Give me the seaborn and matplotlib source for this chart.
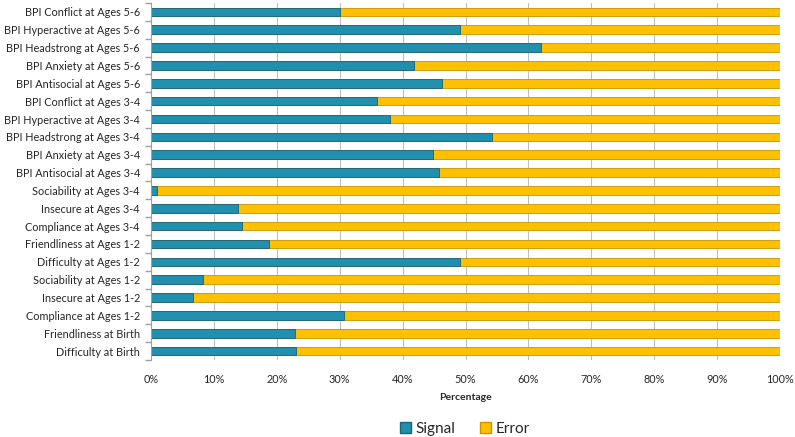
import matplotlib
matplotlib.use("Agg")
import matplotlib.pyplot as plt
import seaborn as sns
import pandas as pd
from matplotlib.patches import Patch
from matplotlib.ticker import PercentFormatter

categories = [
    "BPI Conflict at Ages 5-6", "BPI Hyperactive at Ages 5-6", "BPI Headstrong at Ages 5-6",
    "BPI Anxiety at Ages 5-6", "BPI Antisocial at Ages 5-6", "BPI Conflict at Ages 3-4",
    "BPI Hyperactive at Ages 3-4", "BPI Headstrong at Ages 3-4", "BPI Anxiety at Ages 3-4",
    "BPI Antisocial at Ages 3-4", "Sociability at Ages 3-4", "Insecure at Ages 3-4",
    "Compliance at Ages 3-4", "Friendliness at Ages 1-2", "Difficulty at Ages 1-2",
    "Sociability at Ages 1-2", "Insecure at Ages 1-2", "Compliance at Ages 1-2",
    "Friendliness at Birth", "Difficulty at Birth",
]
signal = [30.0, 49.1, 62.0, 41.8, 46.3, 35.9, 38.0, 54.2, 44.8, 45.8,
          0.95, 13.8, 14.5, 18.7, 49.1, 8.3, 6.6, 30.7, 22.9, 23.1]
error = [100 - s for s in signal]

df = pd.DataFrame({"cat": categories, "signal": signal, "error": error})
df["total"] = df["signal"] + df["error"]

sns.set_theme(style="white")
plt.rcParams["font.family"] = ["Lato", "DejaVu Sans"]

fig = plt.figure(figsize=(7.95, 4.37), dpi=100)
ax = fig.add_axes([151/795, 1-360/437, (780-151)/795, 357/437])

sig_c = "#2190AF"
err_c = "#FFC000"
sns.barplot(data=df, y="cat", x="total", color=err_c, width=0.48, ax=ax,
            edgecolor="#C89400", linewidth=0.6, saturation=1)
sns.barplot(data=df, y="cat", x="signal", color=sig_c, width=0.48, ax=ax,
            edgecolor="#16637A", linewidth=0.6, saturation=1)

ax.set_xlim(0, 100)
ax.set_ylim(len(categories) - 0.5, -0.5)
ax.set_xticks(range(0, 101, 10))
ax.xaxis.set_major_formatter(PercentFormatter(decimals=0))
ax.grid(axis="x", color="#BFBFBF", linewidth=0.8)
ax.set_axisbelow(True)
for s in ["top", "right", "bottom"]:
    ax.spines[s].set_visible(False)
ax.spines["left"].set_color("#A0A0A0")
ax.spines["left"].set_linewidth(0.8)
ax.set_yticks(range(len(categories)))
ax.set_yticks([i + 0.5 for i in range(-1, len(categories))], minor=True)
ax.tick_params(axis="y", which="major", length=0, labelsize=7.8, pad=8)
ax.tick_params(axis="y", which="minor", length=4, color="#A0A0A0", left=True)
ax.tick_params(axis="x", length=0, labelsize=7.8, pad=10)
ax.set_ylabel("")
ax.set_xlabel("Percentage", fontsize=7.5, fontweight="bold", labelpad=6)
for lab in ax.get_yticklabels() + ax.get_xticklabels():
    lab.set_color("#262626")

handles = [Patch(facecolor=sig_c, edgecolor="#16637A", label="Signal"),
           Patch(facecolor=err_c, edgecolor="#C89400", label="Error")]
fig.legend(handles=handles, loc="center", bbox_to_anchor=(465/795, 1-429/437), ncol=2,
           frameon=False, fontsize=11, handlelength=0.75, handleheight=0.75,
           handletextpad=0.3, columnspacing=1.6)

fig.savefig("out.png", dpi=100)
